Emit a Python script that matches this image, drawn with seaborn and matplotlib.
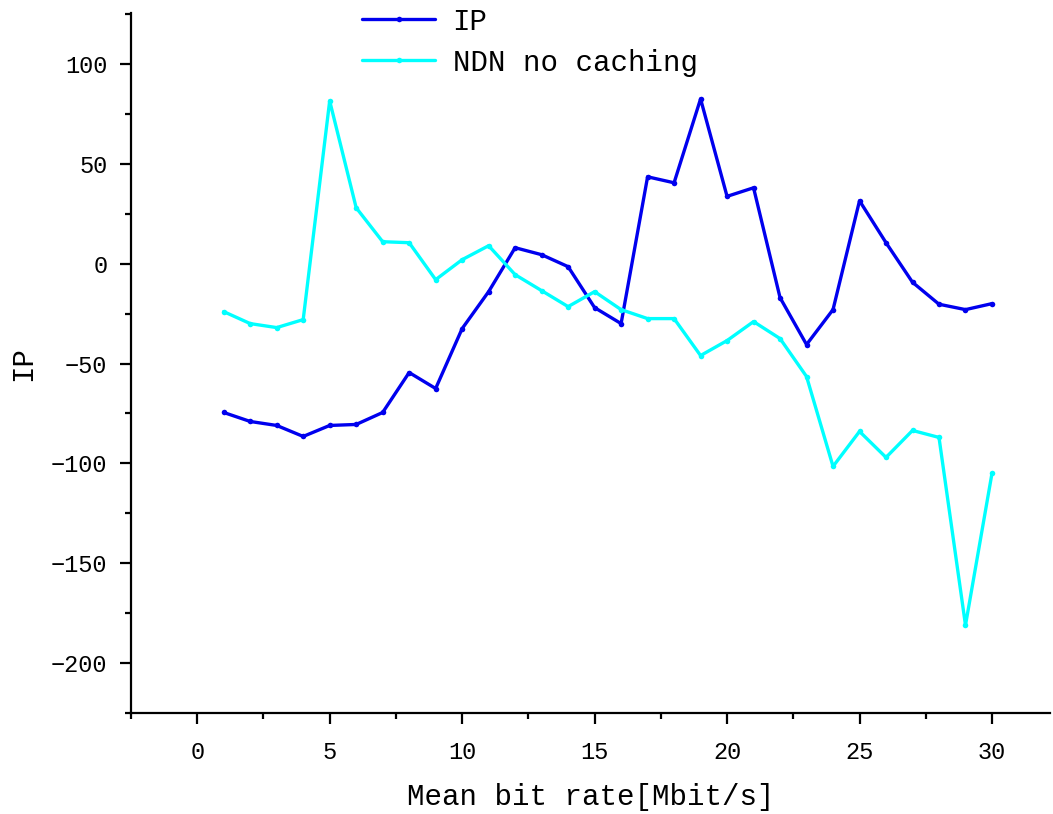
import matplotlib
matplotlib.use("Agg")
import matplotlib.pyplot as plt
import seaborn as sns
import pandas as pd
from matplotlib.ticker import MultipleLocator

rates = list(range(1, 31))
ip_values = [-74.5, -79, -81, -86.5, -81, -80.5, -74.5, -54.5, -62.5, -32.5,
             -14, 8, 4.5, -1.5, -22, -30, 43.5, 40.5, 82.5, 33.7,
             38, -17, -40.5, -23, 31.5, 10.5, -9.3, -20.3, -23, -20]
ndn_values = [-24, -30, -32, -28, 81.5, 28, 11, 10.5, -8, 2,
              9, -5.5, -13.5, -21.5, -14, -23, -27.5, -27.5, -46, -38.5,
              -29, -37.5, -56.5, -101.5, -84, -97, -83.5, -87, -181, -105]
series_names = ["IP", "NDN no caching"]

df = pd.DataFrame({
    "rate": rates * 2,
    "value": ip_values + ndn_values,
    "series": [series_names[0]] * len(rates) + [series_names[1]] * len(rates),
})

sns.set_style("ticks")
plt.rcParams["font.family"] = ["Liberation Mono", "DejaVu Sans Mono"]
plt.rcParams["axes.unicode_minus"] = True
plt.rcParams["text.color"] = "black"
plt.rcParams["axes.labelcolor"] = "black"

fig = plt.figure(figsize=(10.53, 8.14), dpi=100)
ax = fig.add_axes([0.1244, 0.124, 0.873, 0.86])

sns.lineplot(data=df, x="rate", y="value", hue="series",
             palette={"IP": "#0000EE", "NDN no caching": "#00FFFF"},
             marker="o", markersize=4, markeredgewidth=0, linewidth=2.4,
             ax=ax)

ax.set_xlim(-2.5, 32.2)
ax.set_ylim(-225, 125.5)
ax.xaxis.set_major_locator(MultipleLocator(5))
ax.xaxis.set_minor_locator(MultipleLocator(2.5))
ax.yaxis.set_major_locator(MultipleLocator(50))
ax.yaxis.set_minor_locator(MultipleLocator(25))

for s in ["top", "right"]:
    ax.spines[s].set_visible(False)
for s in ["left", "bottom"]:
    ax.spines[s].set_linewidth(1.6)
    ax.spines[s].set_color("black")

ax.tick_params(axis="both", which="major", length=8, width=1.6, direction="out",
               labelsize=17, pad=9, colors="black")
ax.tick_params(axis="both", which="minor", length=4, width=1.6, direction="out",
               colors="black")
ax.tick_params(axis="x", which="major", pad=12)

ax.set_xlabel("Mean bit rate[Mbit/s]", fontsize=21, labelpad=14, color="black")
ax.set_ylabel("IP", fontsize=21, labelpad=10, color="black")

handles, labels = ax.get_legend_handles_labels()
leg = ax.legend(handles, labels, loc="upper left", bbox_to_anchor=(0.319, 1.023),
                bbox_transform=fig.transFigure, frameon=False, fontsize=21,
                handlelength=2.5, handletextpad=0.6, labelspacing=0.45)
for t in leg.get_texts():
    t.set_color("black")

fig.savefig("out.png", dpi=100)
